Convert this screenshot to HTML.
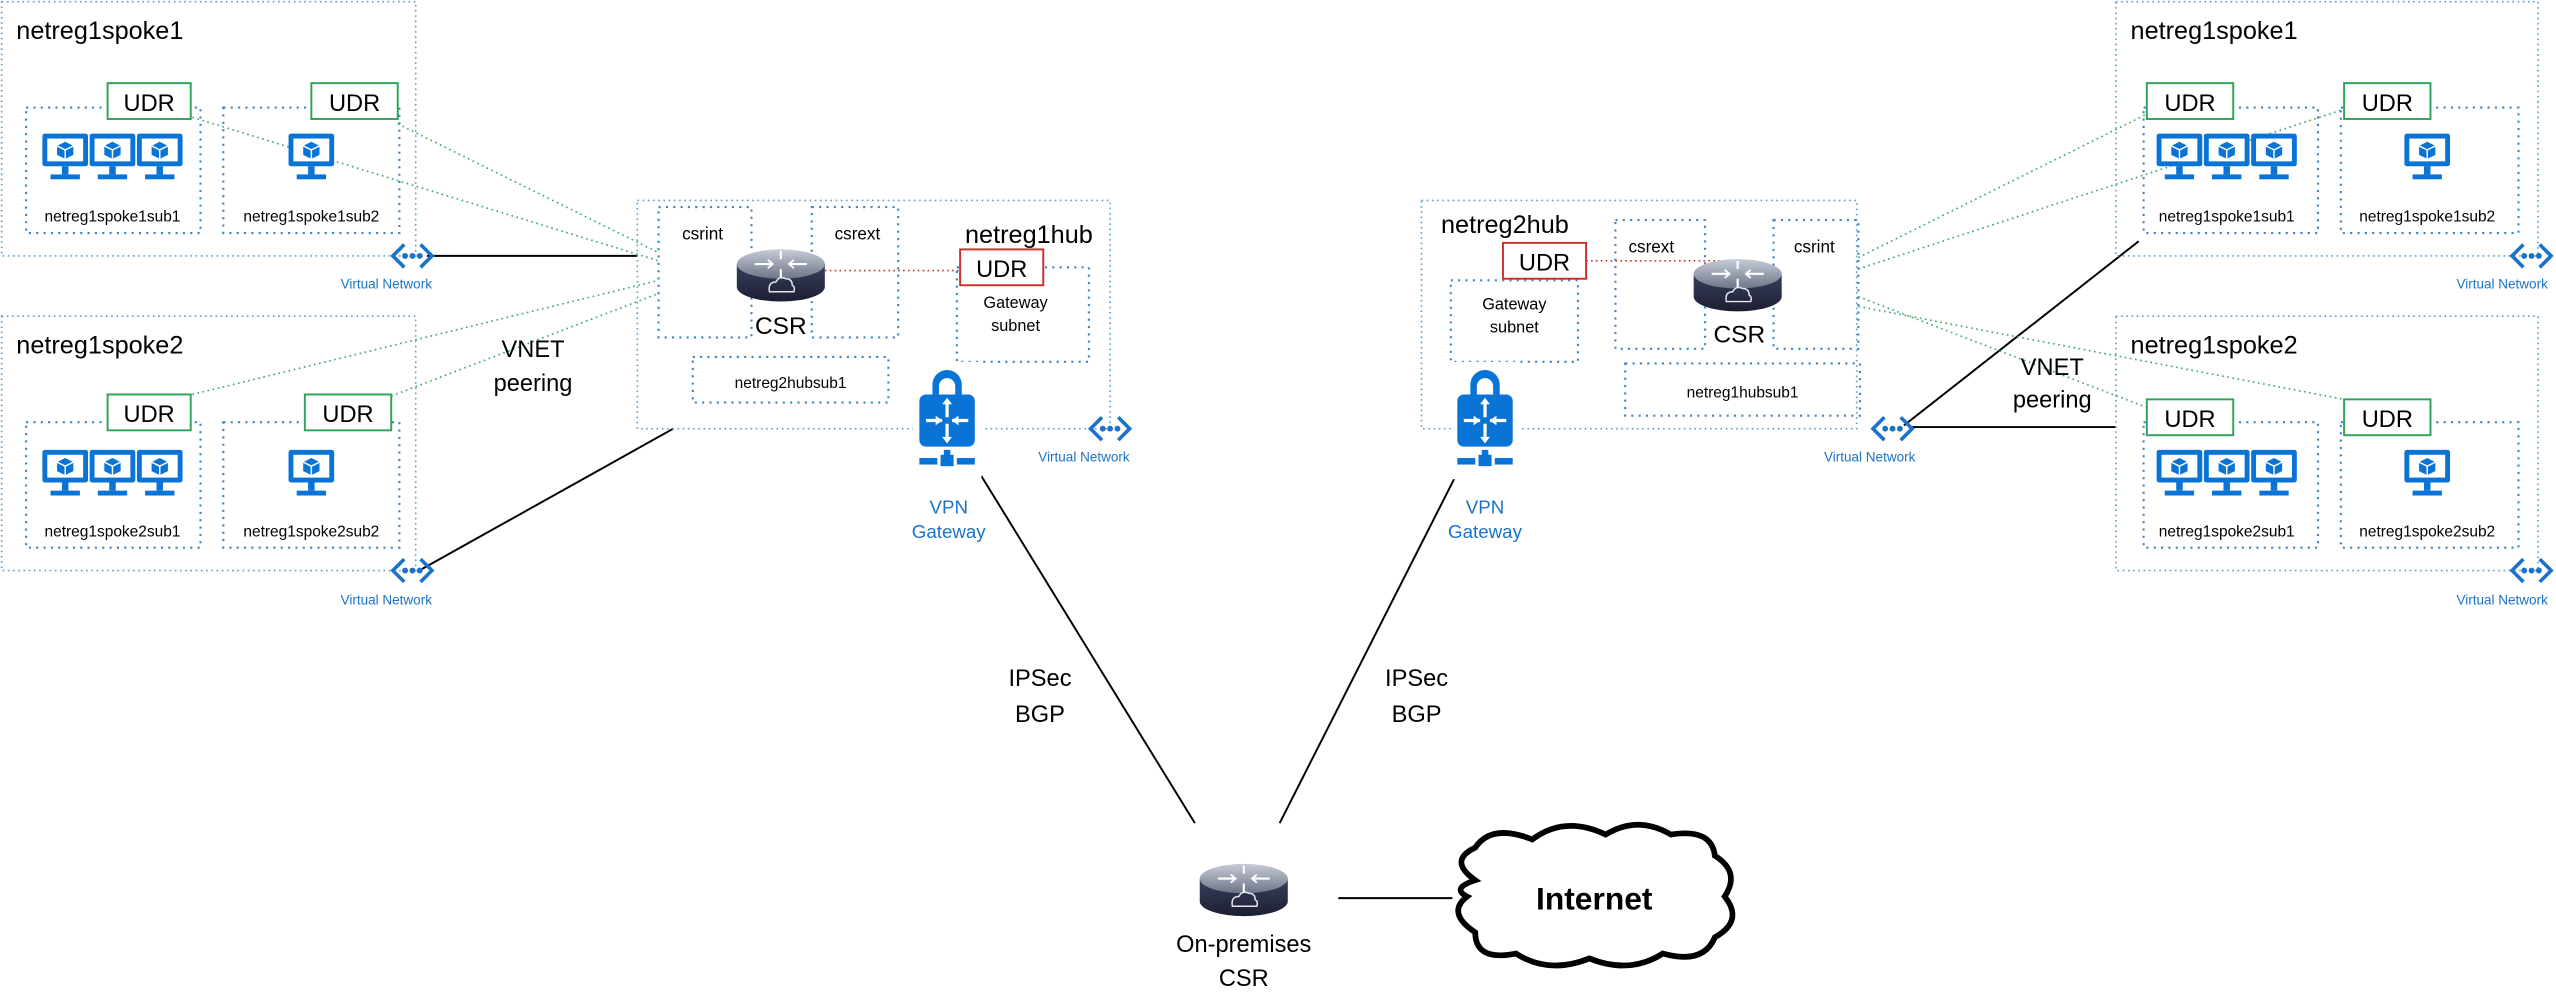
<!DOCTYPE html>
<html><head><meta charset="utf-8"><style>
html,body{margin:0;padding:0;background:#fff;}
svg{display:block;}
text{font-family:"Liberation Sans",sans-serif;fill:#000;}
.b{fill:none;stroke:#3f86c6;stroke-width:1.3;stroke-dasharray:1.3 3.2;}
.o{fill:none;stroke:#5e9fc9;stroke-width:1;stroke-dasharray:1 2.2;}
.g{fill:none;stroke:#3aa86a;stroke-width:1;stroke-dasharray:1 2.2;}
.r{fill:none;stroke:#c0392b;stroke-width:1;stroke-dasharray:1 2;}
.k{stroke:#000;stroke-width:1.2;fill:none;}
.blue{fill:#1a73c8;}
</style></head><body>
<svg width="2556" height="1008" viewBox="0 0 1568 618.4" preserveAspectRatio="none" xmlns="http://www.w3.org/2000/svg">
<defs>
<g id="mon">
<rect x="0" y="0" width="28" height="20" rx="1.5" fill="#0a74d6"/>
<rect x="3" y="3" width="22" height="14" fill="#fff"/>
<path d="M14 5 L19 7.5 L19 13 L14 15.5 L9 13 L9 7.5 Z" fill="#0a74d6"/>
<path d="M9 7.5 L14 10 L19 7.5 M14 10 L14 15.5" stroke="#fff" stroke-width="0.9" fill="none"/>
<rect x="12" y="20" width="4" height="5" fill="#0a74d6"/>
<rect x="5" y="25" width="18" height="3" fill="#0a74d6"/>
</g>
<g id="vnet">
<path d="M-5 -7 L-12 0 L-5 7 M5 -7 L12 0 L5 7" stroke="#1a73c8" stroke-width="2.2" fill="none"/>
<circle cx="-4.5" cy="0" r="1.8" fill="#1a73c8"/><circle cx="0" cy="0" r="1.8" fill="#1a73c8"/><circle cx="4.5" cy="0" r="1.8" fill="#1a73c8"/>
</g>
<linearGradient id="rg" x1="0" y1="0" x2="0" y2="1"><stop offset="0" stop-color="#3a3f5c"/><stop offset="1" stop-color="#1c1f33"/></linearGradient>
<linearGradient id="rt" x1="0" y1="0" x2="0" y2="1"><stop offset="0" stop-color="#c6cbd6"/><stop offset="1" stop-color="#6f7588"/></linearGradient>
<g id="router">
<path d="M-27 -6 L-27 8 A27 9 0 0 0 27 8 L27 -6 Z" fill="url(#rg)"/>
<ellipse cx="0" cy="-6" rx="27" ry="9" fill="url(#rt)"/>
<path d="M-16 -6 H-5 M16 -6 H5 M0 -14 V-9 M0 2 V-3" stroke="#fff" stroke-width="1.3"/>
<path d="M-8 -8.5 L-5 -6 L-8 -3.5 M8 -8.5 L5 -6 L8 -3.5" stroke="#fff" stroke-width="1.1" fill="none"/>
<path d="M-7 11 Q-8 5 -3 5 Q-1 1 3 3 Q7 3 7 7 Q9 8 8 11 Z" stroke="#e6e8ef" stroke-width="0.9" fill="none"/>
</g>
<g id="vpn">
<path d="M-9 -20 A9 9 0 0 1 9 -20 V-12 H5 V-19 A5 5 0 0 0 -5 -19 V-12 H-9 Z" fill="#0a74d6"/>
<rect x="-17" y="-14" width="34" height="32" rx="4" fill="#0a74d6"/>
<path d="M0 -10 V0 M0 4 V14 M-13 2 H-3 M3 2 H13" stroke="#fff" stroke-width="2"/>
<path d="M-3 -8 L0 -12 L3 -8 Z M-3 12 L0 16 L3 12 Z M-7 -1 L-3 2 L-7 5 Z M7 -1 L3 2 L7 5 Z" fill="#fff"/>
<rect x="-2" y="20" width="4" height="4" fill="#0a74d6"/>
<rect x="-17" y="25" width="11" height="4" fill="#0a74d6"/>
<rect x="-4" y="23" width="8" height="7" fill="#0a74d6"/>
<rect x="6" y="25" width="11" height="4" fill="#0a74d6"/>
</g>
</defs>

<!-- connectors -->
<line class="k" x1="262" y1="157" x2="391" y2="157"/>
<line class="k" x1="259" y1="349" x2="413" y2="263"/>
<line class="k" x1="1168" y1="261" x2="1312" y2="148"/>
<line class="k" x1="1172" y1="262" x2="1298" y2="262"/>
<line class="k" x1="602" y1="292" x2="733" y2="505"/>
<line class="k" x1="893" y1="292" x2="785" y2="505"/>
<line class="k" x1="821" y1="551" x2="891" y2="551"/>

<line class="g" x1="118" y1="72" x2="404" y2="160"/>
<line class="g" x1="244" y1="76" x2="404" y2="155"/>
<line class="g" x1="118" y1="242" x2="404" y2="172"/>
<line class="g" x1="240" y1="243" x2="404" y2="180"/>
<line class="g" x1="1140" y1="158" x2="1317" y2="70"/>
<line class="g" x1="1140" y1="165" x2="1438" y2="67"/>
<line class="g" x1="1140" y1="182" x2="1317" y2="250"/>
<line class="g" x1="1140" y1="188" x2="1438" y2="245"/>

<!-- LEFT SPOKE 1 -->
<rect class="o" x="1" y="1" width="254" height="156"/>
<text x="10" y="24" font-size="15.5">netreg1spoke1</text>
<rect class="b" x="16" y="66" width="107" height="77"/>
<rect class="b" x="137" y="66" width="108" height="77"/>
<rect x="66" y="51" width="51" height="22" fill="#fff" stroke="#2fa35a" stroke-width="1.2"/>
<text x="91.5" y="68" font-size="14.5" text-anchor="middle">UDR</text>
<rect x="191" y="51" width="53" height="22" fill="#fff" stroke="#2fa35a" stroke-width="1.2"/>
<text x="217.5" y="68" font-size="14.5" text-anchor="middle">UDR</text>
<use href="#mon" x="26" y="82"/><use href="#mon" x="55" y="82"/><use href="#mon" x="84" y="82"/>
<use href="#mon" x="177" y="82"/>
<text x="69" y="136" font-size="9.5" text-anchor="middle">netreg1spoke1sub1</text>
<text x="191" y="136" font-size="9.5" text-anchor="middle">netreg1spoke1sub2</text>
<use href="#vnet" x="253" y="157"/>
<text x="265" y="177" font-size="8.3" text-anchor="end" class="blue">Virtual Network</text>

<!-- LEFT SPOKE 2 -->
<rect class="o" x="1" y="194" width="254" height="156"/>
<text x="10" y="217" font-size="15.5">netreg1spoke2</text>
<rect class="b" x="16" y="259" width="107" height="77"/>
<rect class="b" x="137" y="259" width="108" height="77"/>
<rect x="66" y="242" width="51" height="22" fill="#fff" stroke="#2fa35a" stroke-width="1.2"/>
<text x="91.5" y="259" font-size="14.5" text-anchor="middle">UDR</text>
<rect x="187" y="242" width="53" height="22" fill="#fff" stroke="#2fa35a" stroke-width="1.2"/>
<text x="213.5" y="259" font-size="14.5" text-anchor="middle">UDR</text>
<use href="#mon" x="26" y="276"/><use href="#mon" x="55" y="276"/><use href="#mon" x="84" y="276"/>
<use href="#mon" x="177" y="276"/>
<text x="69" y="329" font-size="9.5" text-anchor="middle">netreg1spoke2sub1</text>
<text x="191" y="329" font-size="9.5" text-anchor="middle">netreg1spoke2sub2</text>
<use href="#vnet" x="253" y="350"/>
<text x="265" y="371" font-size="8.3" text-anchor="end" class="blue">Virtual Network</text>
<text x="327" y="219" font-size="14.5" text-anchor="middle">VNET</text>
<text x="327" y="240" font-size="14.5" text-anchor="middle">peering</text>

<!-- HUB 1 -->
<rect class="o" x="391" y="123" width="290" height="140"/>
<rect class="b" x="404" y="127" width="57" height="80"/>
<rect class="b" x="498" y="127" width="53" height="80"/>
<text x="431" y="147" font-size="10.5" text-anchor="middle">csrint</text>
<text x="526" y="147" font-size="10.5" text-anchor="middle">csrext</text>
<text x="592" y="149" font-size="15.5">netreg1hub</text>
<rect class="b" x="587" y="164" width="81" height="58"/>
<line class="r" x1="455" y1="166" x2="589" y2="166"/>
<use href="#router" x="479" y="168"/>
<text x="479" y="205" font-size="15" text-anchor="middle">CSR</text>
<rect x="589" y="153" width="51" height="22" fill="#fff" stroke="#c9302c" stroke-width="1.2"/>
<text x="614.5" y="170" font-size="14.5" text-anchor="middle">UDR</text>
<text x="623" y="189" font-size="10" text-anchor="middle">Gateway</text>
<text x="623" y="203" font-size="10" text-anchor="middle">subnet</text>
<rect class="b" x="425" y="219" width="120" height="28"/>
<text x="485" y="238" font-size="9.5" text-anchor="middle">netreg2hubsub1</text>
<use href="#vnet" x="681" y="263"/>
<text x="693" y="283" font-size="8.3" text-anchor="end" class="blue">Virtual Network</text>
<rect x="560" y="222" width="42" height="72" fill="#fff"/>
<use href="#vpn" x="581" y="256"/>
<text x="582" y="315" font-size="11.5" text-anchor="middle" class="blue">VPN</text>
<text x="582" y="330" font-size="11.5" text-anchor="middle" class="blue">Gateway</text>

<!-- HUB 2 -->
<rect class="o" x="872" y="123" width="267" height="140"/>
<text x="884" y="143" font-size="15.5">netreg2hub</text>
<rect class="b" x="890" y="172" width="78" height="50"/>
<rect class="b" x="991" y="135" width="55" height="79"/>
<rect class="b" x="1088" y="135" width="52" height="79"/>
<text x="1013" y="155" font-size="10.5" text-anchor="middle">csrext</text>
<text x="1113" y="155" font-size="10.5" text-anchor="middle">csrint</text>
<line class="r" x1="973" y1="160" x2="1055" y2="160"/>
<rect x="922" y="149" width="51" height="22" fill="#fff" stroke="#c9302c" stroke-width="1.2"/>
<text x="947.5" y="166" font-size="14.5" text-anchor="middle">UDR</text>
<text x="929" y="190" font-size="10" text-anchor="middle">Gateway</text>
<text x="929" y="204" font-size="10" text-anchor="middle">subnet</text>
<use href="#router" x="1066" y="174"/>
<text x="1067" y="210" font-size="15" text-anchor="middle">CSR</text>
<rect class="b" x="997" y="223" width="144" height="32"/>
<text x="1069" y="244" font-size="9.5" text-anchor="middle">netreg1hubsub1</text>
<use href="#vnet" x="1161" y="263"/>
<text x="1175" y="283" font-size="8.3" text-anchor="end" class="blue">Virtual Network</text>
<rect x="890" y="222" width="42" height="72" fill="#fff"/>
<use href="#vpn" x="911" y="256"/>
<text x="911" y="315" font-size="11.5" text-anchor="middle" class="blue">VPN</text>
<text x="911" y="330" font-size="11.5" text-anchor="middle" class="blue">Gateway</text>

<!-- RIGHT SPOKE 1 -->
<rect class="o" x="1298" y="1" width="259" height="156"/>
<text x="1307" y="24" font-size="15.5">netreg1spoke1</text>
<rect class="b" x="1315" y="66" width="107" height="77"/>
<rect class="b" x="1436" y="66" width="109" height="77"/>
<rect x="1317" y="51" width="53" height="22" fill="#fff" stroke="#2fa35a" stroke-width="1.2"/>
<text x="1343.5" y="68" font-size="14.5" text-anchor="middle">UDR</text>
<rect x="1438" y="51" width="53" height="22" fill="#fff" stroke="#2fa35a" stroke-width="1.2"/>
<text x="1464.5" y="68" font-size="14.5" text-anchor="middle">UDR</text>
<use href="#mon" x="1323" y="82"/><use href="#mon" x="1352" y="82"/><use href="#mon" x="1381" y="82"/>
<use href="#mon" x="1475" y="82"/>
<text x="1366" y="136" font-size="9.5" text-anchor="middle">netreg1spoke1sub1</text>
<text x="1489" y="136" font-size="9.5" text-anchor="middle">netreg1spoke1sub2</text>
<use href="#vnet" x="1553" y="157"/>
<text x="1563" y="177" font-size="8.3" text-anchor="end" class="blue">Virtual Network</text>

<!-- RIGHT SPOKE 2 -->
<rect class="o" x="1298" y="194" width="259" height="156"/>
<text x="1307" y="217" font-size="15.5">netreg1spoke2</text>
<rect class="b" x="1315" y="259" width="107" height="77"/>
<rect class="b" x="1436" y="259" width="109" height="77"/>
<rect x="1317" y="245" width="53" height="22" fill="#fff" stroke="#2fa35a" stroke-width="1.2"/>
<text x="1343.5" y="262" font-size="14.5" text-anchor="middle">UDR</text>
<rect x="1438" y="245" width="53" height="22" fill="#fff" stroke="#2fa35a" stroke-width="1.2"/>
<text x="1464.5" y="262" font-size="14.5" text-anchor="middle">UDR</text>
<use href="#mon" x="1323" y="276"/><use href="#mon" x="1352" y="276"/><use href="#mon" x="1381" y="276"/>
<use href="#mon" x="1475" y="276"/>
<text x="1366" y="329" font-size="9.5" text-anchor="middle">netreg1spoke2sub1</text>
<text x="1489" y="329" font-size="9.5" text-anchor="middle">netreg1spoke2sub2</text>
<use href="#vnet" x="1553" y="350"/>
<text x="1563" y="371" font-size="8.3" text-anchor="end" class="blue">Virtual Network</text>
<text x="1259" y="230" font-size="14.5" text-anchor="middle">VNET</text>
<text x="1259" y="250" font-size="14.5" text-anchor="middle">peering</text>

<!-- IPSec labels -->
<text x="638" y="421" font-size="14.5" text-anchor="middle">IPSec</text>
<text x="638" y="443" font-size="14.5" text-anchor="middle">BGP</text>
<text x="869" y="421" font-size="14.5" text-anchor="middle">IPSec</text>
<text x="869" y="443" font-size="14.5" text-anchor="middle">BGP</text>

<!-- On-prem -->
<use href="#router" x="763" y="545" transform=""/>
<text x="763" y="584" font-size="14.5" text-anchor="middle">On-premises</text>
<text x="763" y="605" font-size="14.5" text-anchor="middle">CSR</text>

<!-- Cloud -->
<path d="M905 540 Q888 528 905 520 Q915 505 940 515 Q960 500 985 512 Q1005 500 1025 512 Q1050 508 1052 525 Q1068 535 1058 550 Q1070 565 1052 575 Q1045 592 1020 585 Q1000 598 975 588 Q950 598 930 585 Q905 590 905 572 Q887 560 900 550 Q890 545 905 540 Z" fill="#fff" stroke="#000" stroke-width="3.5"/>
<text x="978" y="558" font-size="19.5" font-weight="bold" text-anchor="middle">Internet</text>
</svg>
</body></html>
